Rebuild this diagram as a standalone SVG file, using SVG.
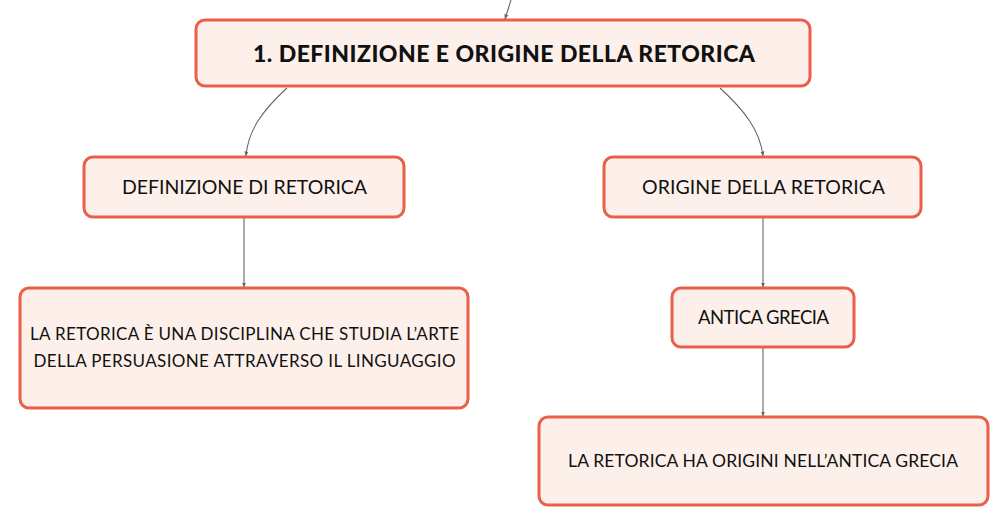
<svg xmlns="http://www.w3.org/2000/svg" width="1008" height="526" viewBox="0 0 1008 526">
<defs>
<style>
.box{fill:#fdf0eb;stroke:#ea5f4a;stroke-width:3}
.t{font-family:Lato,"Noto Sans","Liberation Sans",sans-serif;fill:#111;text-anchor:middle}
.b{font-weight:900}
.c{fill:none;stroke:#666;stroke-width:1.1}
</style>
<marker id="ah" viewBox="0 0 10 10" refX="9" refY="5" markerWidth="5" markerHeight="5" orient="auto" markerUnits="userSpaceOnUse">
<path d="M0,1 L10,5 L0,9 z" fill="#666"/>
</marker>
</defs>
<rect width="1008" height="526" fill="#ffffff"/>
<g id="connectors">
<path class="c" d="M511,0 L505,19" marker-end="url(#ah)"/>
<path class="c" d="M287,88 C263,110 248,130 246,156" marker-end="url(#ah)"/>
<path class="c" d="M720,88 C744,110 760,130 763,156" marker-end="url(#ah)"/>
<path class="c" d="M244,218 L244,287" marker-end="url(#ah)"/>
<path class="c" d="M763,218 L763,287" marker-end="url(#ah)"/>
<path class="c" d="M763,347 L763,416" marker-end="url(#ah)"/>
</g>
<g id="n-root">
<rect class="box" x="196" y="20" width="614" height="66" rx="9"/>
<text class="t b" x="504" y="62" font-size="23" textLength="502">1. DEFINIZIONE E ORIGINE DELLA RETORICA</text>
</g>
<g id="n-def">
<rect class="box" x="84" y="157" width="320" height="60" rx="9"/>
<text class="t" x="244.5" y="194" font-size="19.5" textLength="245">DEFINIZIONE DI RETORICA</text>
</g>
<g id="n-orig">
<rect class="box" x="604" y="157" width="317" height="60" rx="9"/>
<text class="t" x="763.5" y="194" font-size="19.5" textLength="243">ORIGINE DELLA RETORICA</text>
</g>
<g id="n-def-text">
<rect class="box" x="20" y="288" width="448" height="120" rx="9"/>
<text class="t" x="244.5" y="340" font-size="17" textLength="429">LA RETORICA È UNA DISCIPLINA CHE STUDIA L’ARTE</text>
<text class="t" x="244.5" y="367" font-size="17" textLength="422">DELLA PERSUASIONE ATTRAVERSO IL LINGUAGGIO</text>
</g>
<g id="n-grecia">
<rect class="box" x="672" y="288" width="182" height="59" rx="9"/>
<text class="t" x="763.5" y="323.5" font-size="18.5" textLength="131">ANTICA GRECIA</text>
</g>
<g id="n-grecia-text">
<rect class="box" x="539" y="417" width="449" height="88" rx="9"/>
<text class="t" x="763" y="467" font-size="17.5" textLength="390">LA RETORICA HA ORIGINI NELL’ANTICA GRECIA</text>
</g>
</svg>
